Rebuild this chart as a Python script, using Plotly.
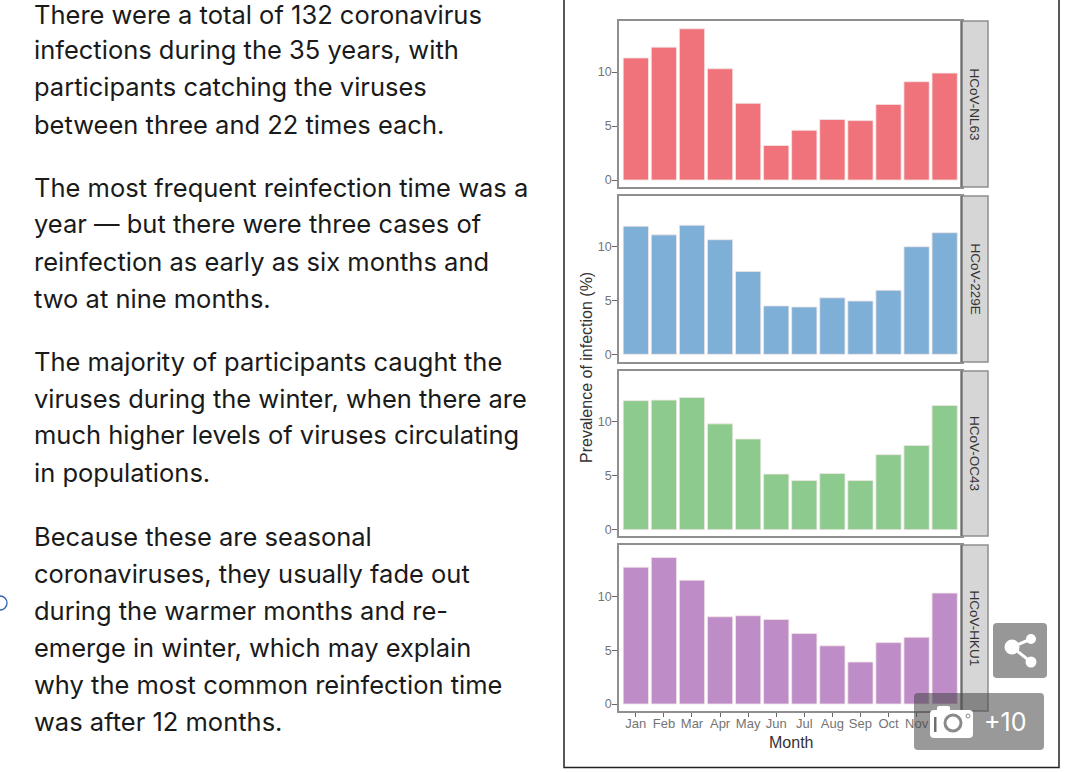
import plotly.graph_objects as go

months = ["Jan", "Feb", "Mar", "Apr", "May", "Jun", "Jul", "Aug", "Sep", "Oct", "Nov", "Dec"]
virus_names = ["HCoV-NL63", "HCoV-229E", "HCoV-OC43", "HCoV-HKU1"]
nl63 = [11.3, 12.3, 14.0, 10.3, 7.1, 3.2, 4.6, 5.6, 5.5, 7.0, 9.1, 9.9]
e229 = [11.9, 11.1, 12.0, 10.65, 7.7, 4.5, 4.4, 5.25, 4.95, 5.95, 10.0, 11.3]
oc43 = [11.95, 12.0, 12.25, 9.8, 8.4, 5.15, 4.55, 5.2, 4.55, 6.95, 7.8, 11.5]
hku1 = [12.7, 13.6, 11.5, 8.1, 8.2, 7.85, 6.55, 5.4, 3.9, 5.7, 6.2, 10.3]
colors = ["#F0727A", "#7EAFD6", "#8CCB8D", "#BE8DC8"]
y_ticks = [0, 5, 10]

paragraphs = [
    "There were a total of 132 coronavirus",
    "infections during the 35 years, with",
    "participants catching the viruses",
    "between three and 22 times each.",
    "The most frequent reinfection time was a",
    "year — but there were three cases of",
    "reinfection as early as six months and",
    "two at nine months.",
    "The majority of participants caught the",
    "viruses during the winter, when there are",
    "much higher levels of viruses circulating",
    "in populations.",
    "Because these are seasonal",
    "coronaviruses, they usually fade out",
    "during the warmer months and re-",
    "emerge in winter, which may explain",
    "why the most common reinfection time",
    "was after 12 months.",
]
text_y = [14, 50, 87, 124, 187, 224, 261, 298, 361, 398, 435, 472, 536, 573, 610, 647, 684, 721]

W, H = 1080, 773
TEXT_FONT = "Inter"
CHART_FONT = "Liberation Sans"

# pixel box of every panel: top, bottom, y pixel of 0, y pixel of 10
panels = [(21, 187, 180, 72), (196, 362, 354.3, 246.7), (371, 536, 529.7, 421.7), (545, 711, 704, 596.3)]
PX0, PX1, STRIP = 619, 961.5, 988


def px(v):
    return v / W


def py(v):
    return 1 - v / H


def paper_shape(kind, x0, y0, x1, y1, **kw):
    return dict(type=kind, xref="paper", yref="paper", x0=px(x0), x1=px(x1), y0=py(y1), y1=py(y0), **kw)


def round_rect(x0, y0, x1, y1, r, fill):
    # small rounded box for the page buttons, drawn as an svg path on paper coordinates
    pts = [("M", x0 + r, y0), ("L", x1 - r, y0), ("Q", x1, y0, x1, y0 + r), ("L", x1, y1 - r),
           ("Q", x1, y1, x1 - r, y1), ("L", x0 + r, y1), ("Q", x0, y1, x0, y1 - r), ("L", x0, y0 + r),
           ("Q", x0, y0, x0 + r, y0)]
    path = ""
    for p in pts:
        coords = [px(c) if j % 2 == 0 else py(c) for j, c in enumerate(p[1:])]
        path += p[0] + " ".join(str(c) for c in coords) + " "
    return dict(type="path", xref="paper", yref="paper", path=path + "Z", fillcolor=fill, line=dict(width=0))


fig = go.Figure()
series = [nl63, e229, oc43, hku1]
shapes = []
annotations = []

for i, (values, color, name, box) in enumerate(zip(series, colors, virus_names, panels)):
    top, bottom, zero, ten = box
    unit = (zero - ten) / 10
    suffix = "" if i == 0 else str(i + 1)
    fig.add_trace(go.Bar(
        x=months, y=values, name=name, width=0.9, xaxis="x" + suffix, yaxis="y" + suffix,
        marker=dict(color=color, line=dict(color="#F3E6E6", width=0.8)), showlegend=False))
    last = i == 3
    fig.update_layout({
        "xaxis" + suffix: dict(
            domain=[px(PX0), px(PX1)], anchor="y" + suffix, range=[-0.6, 11.6], type="category",
            categoryorder="array", categoryarray=months, showgrid=False, zeroline=False,
            showline=True, mirror=True, linecolor="#8f8f8f", linewidth=1.5,
            ticks="outside" if last else "", ticklen=4, tickcolor="#666666", tickwidth=1,
            showticklabels=last, tickangle=0, ticklabelstandoff=-4,
            tickfont=dict(family=CHART_FONT, size=13, color="#747474")),
        "yaxis" + suffix: dict(
            domain=[py(bottom), py(top)], anchor="x" + suffix,
            range=[-(bottom - zero) / unit, (zero - top) / unit],
            tickvals=y_ticks, showgrid=False, zeroline=False,
            showline=True, mirror=True, linecolor="#8f8f8f", linewidth=1.5,
            ticks="outside", ticklen=5, tickcolor="#666666", tickwidth=1, ticklabelstandoff=-2,
            tickfont=dict(family=CHART_FONT, size=12.5, color="#747474")),
    })
    # facet strip on the right of the panel
    shapes.append(paper_shape("rect", PX1, top, STRIP, bottom, fillcolor="#D6D6D6",
                              line=dict(color="#8f8f8f", width=1.5)))
    shapes.append(paper_shape("line", PX1, top, PX1, bottom, line=dict(color="#6e6e6e", width=2.2)))
    annotations.append(dict(text=name, xref="paper", yref="paper", x=px(974.5), y=py((top + bottom) / 2),
                            showarrow=False, textangle=90, xanchor="center", yanchor="middle",
                            font=dict(family=CHART_FONT, size=13.5, color="#333333")))

annotations.append(dict(text="Prevalence of infection (%)", xref="paper", yref="paper", x=px(586), y=py(368),
                        showarrow=False, textangle=-90, xanchor="center", yanchor="middle",
                        font=dict(family=CHART_FONT, size=16, color="#333333")))
annotations.append(dict(text="Month", xref="paper", yref="paper", x=px(790.5), y=py(742), showarrow=False,
                        xanchor="center", yanchor="middle",
                        font=dict(family=CHART_FONT, size=16, color="#333333")))

for line, y in zip(paragraphs, text_y):
    annotations.append(dict(text=line, xref="paper", yref="paper", x=px(32), y=py(y), showarrow=False,
                            xanchor="left", yanchor="middle",
                            font=dict(family=TEXT_FONT, size=25.5, color="#1a1a1a")))

# page furniture: article frame, link marker, share button and image counter
shapes.append(paper_shape("rect", 564, -5, 1059, 767.5, line=dict(color="#222222", width=1.5), layer="below"))
shapes.append(paper_shape("circle", -7, 596, 7, 610, line=dict(color="#2f5fb5", width=1.3)))
shapes.append(round_rect(993, 623, 1047, 678, 4, "#979797"))
shapes.append(round_rect(914, 693, 1044, 750, 4, "rgba(70,70,70,0.55)"))
for a, b in [((1012, 647), (1031, 639)), ((1012, 647), (1031, 662))]:
    shapes.append(dict(type="line", xref="paper", yref="paper", x0=px(a[0]), y0=py(a[1]), x1=px(b[0]), y1=py(b[1]),
                       line=dict(color="white", width=3)))
for cx, cy, r in [(1012, 647, 7.5), (1031, 639, 5), (1031, 662, 5.5)]:
    shapes.append(paper_shape("circle", cx - r, cy - r, cx + r, cy + r, fillcolor="white", line=dict(width=0)))
# camera glyph
shapes.append(round_rect(930, 710, 973, 738, 4, "white"))
shapes.append(round_rect(937, 706, 950, 712, 2, "white"))
shapes.append(paper_shape("circle", 945, 715, 961, 731, fillcolor="white", line=dict(color="#8a8a8a", width=3)))
shapes.append(paper_shape("rect", 934, 717, 936.5, 732, fillcolor="#6e6e6e", line=dict(width=0)))
shapes.append(paper_shape("circle", 966, 714, 970, 718, fillcolor="white", line=dict(color="#8a8a8a", width=1)))
annotations.append(dict(text="+10", xref="paper", yref="paper", x=px(1005), y=py(722), showarrow=False,
                        xanchor="center", yanchor="middle",
                        font=dict(family=TEXT_FONT, size=25, color="white")))

fig.update_layout(
    width=W, height=H, margin=dict(l=0, r=0, t=0, b=0), plot_bgcolor="white", paper_bgcolor="white",
    shapes=shapes, annotations=annotations, bargap=0.1)

fig.write_html("out.html", config=dict(displayModeBar=False), post_script="document.body.style.margin='0';")
